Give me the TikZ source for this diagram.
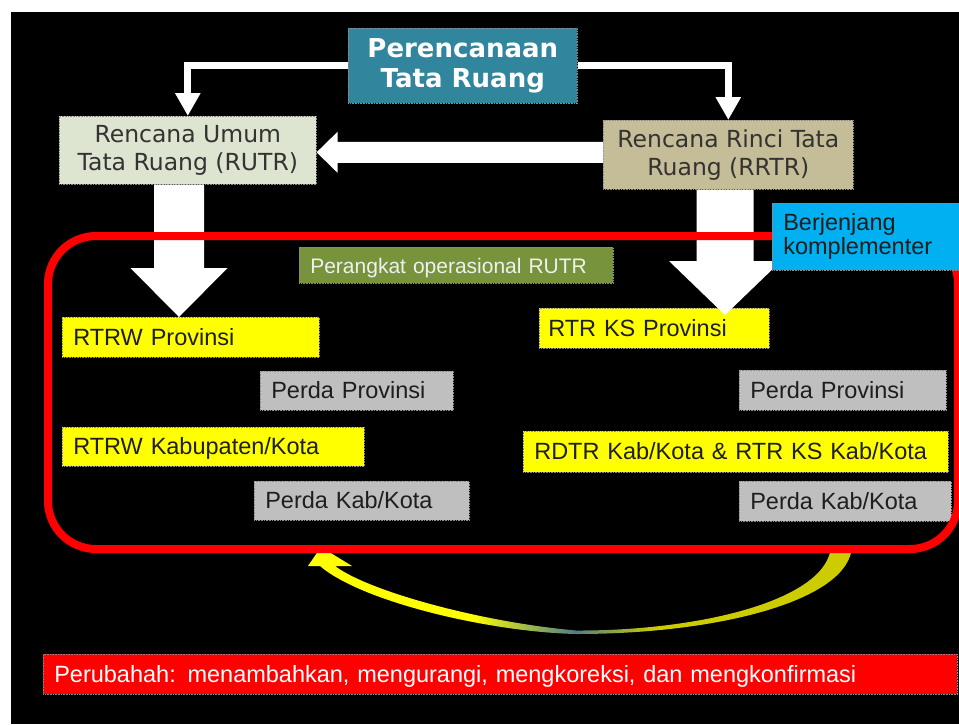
\documentclass[tikz,border=0pt]{standalone}
\usepackage{fontspec}
\setmainfont{Liberation Sans}
\newfontfamily\verdfont{DejaVu Sans}
\usetikzlibrary{calc,arrows.meta}

\definecolor{titleteal}{HTML}{31859C}
\definecolor{rutrfill}{HTML}{DDE4D0}
\definecolor{rrtrfill}{HTML}{C4BD97}
\definecolor{opgreen}{HTML}{77933C}
\definecolor{hiyellow}{HTML}{FFFF00}
\definecolor{perdagray}{HTML}{BFBFBF}
\definecolor{skyblue}{HTML}{00B0F0}
\definecolor{alertred}{HTML}{FF0000}
\definecolor{darktext}{HTML}{1E1E1E}
\definecolor{softtext}{HTML}{333333}
\definecolor{fadeteal}{HTML}{4F7F86}
\definecolor{oliveyellow}{HTML}{CCCC00}

% colour run of the curved feedback arrow: bright on the left, dark at the bottom, olive on the right
\pgfdeclarehorizontalshading{returnfade}{100bp}{color(0bp)=(hiyellow); color(40bp)=(hiyellow); color(49.5bp)=(fadeteal); color(57bp)=(oliveyellow); color(100bp)=(oliveyellow)}

\begin{document}
\begin{tikzpicture}[x=1pt,y=-1pt,
  boxedge/.style={draw=black!45, densely dotted, line width=0.6pt},
  blk/.style={boxedge, anchor=north west, inner ysep=1pt},
  twoline/.style={blk, align=center, font={\verdfont\fontsize{23.5}{28}\selectfont}, text=softtext},
  lbox/.style={blk, inner xsep=11pt, align=left, text height=19.5pt, text depth=3.5pt,
    font={\fontsize{23.5}{28}\selectfont}, text=darktext},
  ybox/.style={lbox, fill=hiyellow},
  gbox/.style={lbox, fill=perdagray},
  thinconn/.style={draw=white, line width=7pt, -{Triangle[width=24pt,length=23pt]}},
  bigarrow/.style={fill=white}
]
\useasboundingbox (0,0) rectangle (959,724);
\fill[white] (0,0) rectangle (959,724);
\fill[black] (11,12) rectangle (959,724);

% top level
\node[blk, fill=titleteal, minimum width=229, minimum height=75, align=center, text=white,
  font={\verdfont\bfseries\fontsize{26}{30}\selectfont}] (title) at (348,28) {Perencanaan\\Tata Ruang};

% general and detailed plans
\node[twoline, fill=rutrfill, minimum width=257, minimum height=68] (rutr) at (59,116) {Rencana Umum\\Tata Ruang (RUTR)};
\node[twoline, fill=rrtrfill, minimum width=250, minimum height=69] (rrtr) at (603,120) {Rencana Rinci Tata\\Ruang (RRTR)};

\draw[thinconn] (title.west) -| (rutr.north);
\draw[thinconn] (title.east) -| (rrtr.north);

% operational instruments
\node[lbox, fill=opgreen, text=white!94!black, font={\fontsize{21}{25}\selectfont}, text height=18pt, text depth=2pt,
  minimum height=36, text width=292] (oper) at (299,247) {Perangkat operasional RUTR};

\node[ybox, minimum height=40, text width=235] (rtrwprov) at (62,317) {RTRW Provinsi};
\node[gbox, minimum height=39, text width=171] (perdaprovL) at (260,371) {Perda Provinsi};
\node[ybox, minimum height=39, text width=280] (rtrwkab) at (62,427) {RTRW Kabupaten/Kota};
\node[gbox, minimum height=39, text width=193] (perdakabL) at (254,481) {Perda Kab/Kota};

\node[ybox, minimum height=40, inner xsep=9pt, text width=212] (rtrksprov) at (539,308) {RTR KS Provinsi};
\node[gbox, minimum height=40, text width=185] (perdaprovR) at (739,370) {Perda Provinsi};
\node[ybox, minimum height=41, text width=403] (rdtr) at (523,431) {RDTR Kab/Kota \& RTR KS Kab/Kota};
\node[gbox, minimum height=40, text width=190] (perdakabR) at (739,481) {Perda Kab/Kota};

% block arrows between the plans
\coordinate (tipA) at ($(rtrwprov.north west)+(117,0)$);
\coordinate (tipB) at ($(rtrksprov.north west)+(186,7)$);

\fill[bigarrow] let \p1=(rutr.east), \p2=(rrtr.west) in
  (\x1,\y1-2pt) -- (\x1+21pt,\y1+18.5pt) -- (\x1+21pt,\y1+8.5pt) -- (\x2,\y1+8.5pt)
  -- (\x2,\y1-12.5pt) -- (\x1+21pt,\y1-12.5pt) -- (\x1+21pt,\y1-22.5pt) -- cycle;

\fill[bigarrow] let \p1=(rutr.south), \p2=(tipA) in
  (\x2-25pt,\y1) -- (\x2-25pt,\y2+49pt) -- (\x2-48.5pt,\y2+49pt) -- (\x2,\y2)
  -- (\x2+48.5pt,\y2+49pt) -- (\x2+25pt,\y2+49pt) -- (\x2+25pt,\y1) -- cycle;

\fill[bigarrow] let \p1=(rrtr.south), \p2=(tipB) in
  (\x2-28.5pt,\y1) -- (\x2-28.5pt,\y2+54pt) -- (\x2-56pt,\y2+54pt) -- (\x2,\y2)
  -- (\x2+56pt,\y2+54pt) -- (\x2+28.5pt,\y2+54pt) -- (\x2+28.5pt,\y1) -- cycle;

% curved feedback arrow under the frame
\shade[shading=returnfade]
  (852,546) .. controls (850,600) and (720,634) .. (576,634)
  .. controls (490,632) and (362,602) .. (320,566)
  -- (308,566) -- (321,547) -- (352,566) -- (335,566)
  .. controls (368,591) and (480,622) .. (576,630.5)
  .. controls (700,631) and (828,600) .. (831,546) -- cycle;

% frame around the operational level
\node[draw=alertred, line width=8pt, rounded corners=48pt, minimum width=910, minimum height=313,
  inner sep=0pt, anchor=north west] (frame) at (44,232) {};

\node[blk, fill=skyblue, inner xsep=11pt, align=left, text width=168, minimum height=67, text=darktext,
  font={\fontsize{23.5}{24}\selectfont}] (berj) at (772,203) {Berjenjang\\komplementer};

% note on revisions
\node[lbox, fill=alertred, text=white, minimum height=40, text width=892] (note) at (43,654)
  {Perubahah: menambahkan, mengurangi, mengkoreksi, dan mengkonfirmasi};
\end{tikzpicture}
\end{document}
